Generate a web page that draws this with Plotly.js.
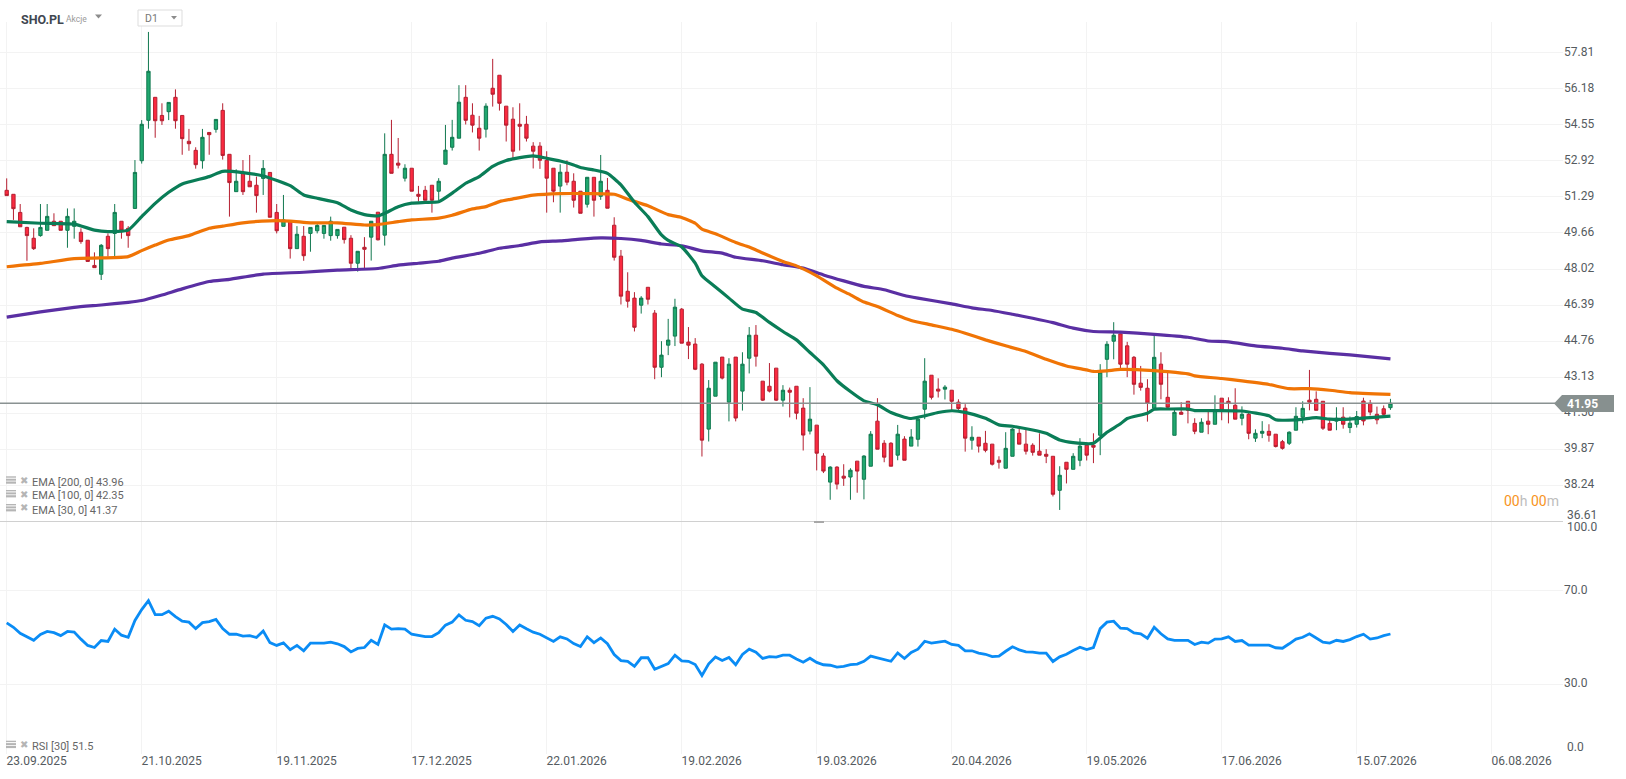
<!DOCTYPE html>
<html>
<head>
<meta charset="utf-8">
<title>SHO.PL</title>
<script src="https://cdn.plot.ly/plotly-3.0.1.min.js"></script>
<style>
  html, body { margin: 0; padding: 0; background: #fff; }
  #chart { width: 1626px; height: 779px; }
</style>
</head>
<body>
<div id="chart"></div>
<script>
// candles, one per trading day
const openPrices = [
  51.59,51.41,50.59,49.91,49.42,49.54,49.78,50.19,50.19,49.78,
  49.96,49.69,49.33,48.19,47.79,49.51,49.64,50.19,49.87,50.77,
  52.93,54.76,55.80,54.98,55.15,55.80,54.98,53.81,53.40,52.93,
  54.21,54.35,55.21,53.22,51.53,52.39,52.00,51.82,52.13,52.40,
  50.59,49.96,50.19,48.95,49.51,49.64,49.76,49.64,49.54,49.54,
  49.92,49.42,48.29,49.01,49.47,50.60,49.56,53.22,52.82,52.14,
  52.59,51.41,51.59,51.82,51.55,52.77,53.54,53.95,55.80,54.99,
  54.40,54.36,56.21,56.80,55.40,54.81,54.58,54.58,53.59,53.59,
  52.95,52.59,51.78,52.41,52.00,51.55,50.96,52.18,51.32,51.59,
  50.01,48.61,47.02,46.71,46.39,47.20,46.03,43.58,44.58,44.99,
  46.21,44.72,44.63,43.72,40.78,42.27,44.04,42.00,44.04,42.50,
  43.99,45.03,42.95,42.72,43.54,42.09,42.54,42.72,41.73,40.69,
  40.96,39.56,38.38,39.06,38.65,38.61,39.33,38.51,39.10,41.14,
  40.14,40.14,39.60,40.33,40.01,40.32,41.68,43.22,42.59,42.59,
  42.54,42.00,41.73,40.28,40.41,40.14,40.10,39.37,39.01,39.55,
  40.59,40.10,40.05,39.78,39.64,39.55,38.01,39.28,38.96,39.37,
  40.05,40.05,40.50,43.94,44.76,45.09,44.55,44.03,42.86,42.63,
  41.72,43.72,42.22,40.50,41.54,42.04,41.04,40.64,41.14,41.00,
  42.18,42.04,41.86,41.27,41.45,40.37,40.59,40.68,40.55,40.21,
  40.14,40.73,41.32,42.09,42.13,42.04,41.04,41.14,41.32,40.85,
  41.00,42.05,41.95,41.45,41.70,41.75
];
const highPrices = [
  52.13,51.41,50.97,49.94,49.87,50.97,50.97,50.55,50.19,50.77,
  50.77,49.87,49.33,48.78,49.16,49.64,50.97,50.19,49.97,52.96,
  54.77,58.76,55.80,55.53,55.57,56.16,54.98,54.37,53.54,54.37,
  54.21,54.80,55.53,53.22,52.54,52.96,53.19,52.21,52.96,52.40,
  50.97,51.38,50.19,49.97,49.97,49.91,50.06,50.00,50.40,49.82,
  49.92,49.56,48.83,49.47,50.19,50.60,54.17,54.78,53.96,52.77,
  52.59,51.79,51.79,51.82,52.14,54.55,54.78,56.35,56.35,55.53,
  54.96,55.53,57.54,56.80,55.40,55.35,55.53,54.96,53.77,53.77,
  53.36,52.59,52.77,52.95,52.36,51.55,52.18,52.18,53.19,52.15,
  50.37,48.89,47.88,46.98,46.80,47.20,46.17,44.76,45.77,46.68,
  46.26,45.40,44.90,43.77,43.00,43.81,44.04,43.99,44.04,44.26,
  45.40,45.49,42.95,43.77,43.54,42.77,42.66,42.72,42.18,42.68,
  40.96,39.69,39.10,39.10,39.19,39.01,39.33,39.60,40.69,42.18,
  40.28,40.19,40.97,40.46,40.78,41.35,43.99,43.22,43.08,42.77,
  42.54,42.13,41.91,40.91,40.41,40.70,40.10,39.55,40.64,40.82,
  40.82,40.78,40.14,40.59,39.87,39.55,39.10,39.28,39.69,40.37,
  40.14,40.59,43.72,44.76,45.62,45.12,44.73,44.09,43.64,43.04,
  45.04,44.26,43.35,41.72,42.00,42.04,41.27,41.27,41.68,42.31,
  42.18,42.22,42.63,41.81,41.54,40.77,41.14,41.00,40.55,40.29,
  40.68,41.77,42.04,43.46,42.49,42.04,41.27,41.77,41.77,41.35,
  41.60,42.20,42.10,41.80,41.85,42.15
];
const lowPrices = [
  51.35,50.25,49.94,48.40,48.89,49.49,49.78,49.99,49.78,48.99,
  49.40,49.17,48.37,48.09,47.53,48.59,48.59,49.40,48.99,50.77,
  52.80,54.38,53.97,54.55,54.77,54.38,53.20,53.38,52.57,52.57,
  53.20,54.20,52.98,50.40,51.53,51.38,51.75,50.58,51.38,50.37,
  49.64,49.96,48.50,48.95,48.40,48.81,49.64,49.40,49.31,49.40,
  49.18,48.02,47.91,48.06,48.41,49.32,49.09,52.36,52.58,51.99,
  51.55,51.08,51.14,50.58,51.14,52.77,53.39,53.95,54.57,54.21,
  53.39,53.98,55.38,55.20,53.80,53.00,53.39,53.80,52.58,52.56,
  50.58,51.05,50.58,51.82,50.81,50.55,50.81,50.40,51.16,50.78,
  48.41,46.42,46.28,45.20,46.01,46.42,43.04,43.13,44.13,44.54,
  44.67,43.95,43.45,39.54,40.22,42.27,43.03,41.13,41.13,41.62,
  43.30,43.61,42.05,42.44,42.05,41.80,41.31,41.22,39.81,40.54,
  38.91,38.79,37.58,38.05,38.21,37.58,37.90,37.60,39.10,39.87,
  39.28,39.10,39.37,39.37,40.01,39.99,41.23,42.12,42.21,42.12,
  41.63,41.65,39.76,39.85,39.72,39.73,39.13,38.99,39.01,39.55,
  40.10,39.63,39.58,39.60,39.24,37.73,37.12,38.32,38.96,39.10,
  39.36,39.24,39.60,43.13,43.94,43.49,43.13,42.34,42.52,41.12,
  41.68,42.13,41.68,40.50,41.45,41.04,40.55,40.64,40.55,41.00,
  41.18,41.04,41.23,40.95,40.32,40.20,40.37,40.21,39.95,39.85,
  40.06,40.73,41.04,41.63,41.63,40.74,40.73,40.73,40.80,40.60,
  40.85,40.95,41.40,41.00,41.30,41.65
];
const closePrices = [
  51.35,50.76,49.94,49.54,48.95,49.91,50.41,49.99,49.78,50.41,
  50.19,49.27,48.37,48.09,49.10,48.95,50.59,49.78,49.54,52.40,
  54.58,56.98,54.74,54.74,55.57,54.74,53.93,53.70,52.75,53.99,
  54.11,54.80,53.17,51.94,52.00,51.53,51.75,51.35,52.58,50.37,
  49.76,50.25,48.95,49.60,48.63,49.91,50.00,50.00,50.19,49.82,
  49.36,48.29,48.83,48.92,50.19,49.35,53.22,52.36,52.73,52.59,
  51.55,51.32,51.14,51.14,52.00,53.41,53.99,55.58,54.76,54.54,
  53.95,55.40,55.94,55.53,54.54,53.36,54.49,53.95,53.36,52.95,
  52.14,51.55,52.41,51.96,51.14,50.55,52.18,51.14,52.00,50.78,
  48.56,46.80,46.57,45.39,46.71,46.66,43.58,44.13,44.81,46.30,
  44.67,44.58,43.49,40.28,42.63,43.81,43.09,43.72,41.28,43.72,
  45.03,44.08,42.09,42.50,42.09,42.54,42.45,41.50,40.51,41.23,
  39.69,38.88,39.06,38.29,38.56,38.92,38.88,39.56,40.55,39.87,
  39.51,39.10,40.55,39.37,40.42,41.23,42.95,42.22,42.50,42.68,
  42.04,41.71,40.37,40.41,40.01,39.82,39.19,39.28,39.91,40.78,
  40.10,39.78,39.73,39.60,39.55,37.83,38.69,38.96,39.55,40.01,
  39.60,39.96,43.36,44.62,45.03,43.72,43.72,42.81,42.67,41.95,
  44.03,42.81,41.77,41.54,41.45,41.63,40.68,41.09,41.00,41.63,
  41.63,41.95,41.23,41.45,40.59,40.59,40.68,40.50,39.99,39.91,
  40.64,41.36,41.72,42.00,41.63,40.82,40.73,41.27,41.00,41.05,
  41.35,41.15,41.55,41.20,41.45,41.95
];

// moving averages, read at a subset of the bars
const ema30Bars = [0,5,10,13,15,18,20,22,24,26,30,32,35,38,42,44,46,49,51,53,55,56,58,60,62,64,66,68,70,72,74,76,78,80,82,84,85,87,89,91,93,95,97,98,100,102,103,105,107,109,111,113,115,117,119,121,123,125,127,129,131,133,134,136,138,140,142,145,147,149,152,154,156,158,161,163,165,166,169,170,172,175,176,179,183,187,188,191,194,196,199,202,205];
const ema30 = [50.17,50.10,50.06,49.79,49.72,49.79,50.40,51.00,51.50,51.88,52.21,52.45,52.39,52.24,51.80,51.38,51.23,51.03,50.70,50.49,50.43,50.55,50.85,51.01,51.04,51.07,51.46,51.91,52.21,52.67,52.94,53.07,53.15,53.04,52.92,52.74,52.62,52.51,52.36,51.84,51.05,50.40,49.57,49.32,49.03,48.29,47.72,47.21,46.71,46.21,46.06,45.61,45.20,44.82,44.25,43.69,42.97,42.48,42.06,41.88,41.53,41.32,41.26,41.38,41.53,41.61,41.54,41.27,40.97,40.91,40.74,40.59,40.29,40.17,40.14,40.64,41.02,41.26,41.50,41.68,41.69,41.69,41.62,41.62,41.60,41.38,41.20,41.20,41.30,41.23,41.23,41.30,41.37];
const ema100Bars = [0,5,10,14,18,20,22,24,27,30,32,35,39,42,45,49,53,55,58,60,64,66,69,71,73,75,78,82,86,90,92,95,98,100,102,103,105,108,110,112,115,117,120,123,125,127,129,132,134,137,140,142,145,148,151,154,157,160,161,163,165,170,172,175,176,180,183,187,190,193,196,199,205];
const ema100 = [48.13,48.28,48.50,48.53,48.59,48.86,49.11,49.34,49.54,49.87,49.97,50.12,50.21,50.20,50.12,50.12,50.02,50.04,50.17,50.25,50.33,50.46,50.75,50.85,51.08,51.20,51.37,51.44,51.44,51.41,51.19,50.89,50.49,50.36,50.10,49.83,49.62,49.23,49.02,48.75,48.37,48.17,47.72,47.16,46.86,46.53,46.33,45.92,45.70,45.50,45.30,45.12,44.82,44.55,44.29,43.94,43.64,43.46,43.39,43.42,43.48,43.43,43.38,43.28,43.19,43.07,42.96,42.80,42.61,42.61,42.54,42.43,42.35];
const ema200Bars = [0,5,10,14,18,20,23,26,30,33,38,44,49,55,58,61,64,66,70,73,76,79,82,85,88,91,94,97,100,103,106,108,112,115,118,121,124,127,130,133,135,140,143,146,149,152,155,158,161,165,170,175,178,181,185,189,192,196,199,205];
const ema200 = [45.85,46.09,46.29,46.40,46.52,46.60,46.85,47.13,47.46,47.56,47.80,47.88,47.98,48.05,48.20,48.29,48.38,48.52,48.74,48.97,49.09,49.26,49.30,49.38,49.44,49.41,49.32,49.16,49.08,48.85,48.75,48.56,48.40,48.22,48.07,47.76,47.49,47.24,47.09,46.83,46.71,46.45,46.27,46.15,45.98,45.80,45.60,45.35,45.20,45.17,45.07,44.94,44.77,44.73,44.55,44.44,44.32,44.21,44.14,43.96];

const rsi = [
  56.3,54.4,51.8,50.4,48.8,51.3,52.6,52.1,50.8,52.6,
  52.3,49.3,46.6,45.7,48.7,48.3,53.6,51.0,50.1,57.3,
  62.0,65.8,59.8,59.8,61.3,59.0,57.0,56.6,53.8,56.4,
  56.8,57.8,53.8,51.4,51.4,50.6,50.8,50.0,52.8,47.8,
  46.6,47.7,44.8,46.6,44.3,47.6,47.6,47.6,48.0,47.3,
  46.1,43.8,45.3,45.7,48.8,47.0,55.4,53.6,53.8,53.6,
  51.4,50.8,50.4,50.4,52.1,55.3,56.6,59.7,57.4,56.8,
  55.1,58.3,59.1,58.0,55.6,52.6,55.4,53.8,52.3,51.4,
  49.7,48.3,50.3,49.4,47.4,46.1,50.3,47.8,49.8,47.3,
  42.7,40.1,39.8,37.6,41.3,41.3,36.4,37.6,38.8,42.4,
  40.0,39.8,38.4,33.7,38.7,41.6,40.1,41.4,38.3,42.7,
  45.0,43.7,41.0,41.8,41.6,42.4,42.4,40.8,39.4,41.1,
  39.3,38.3,38.1,37.3,37.6,38.4,38.6,39.8,42.0,41.3,
  40.7,39.8,43.4,41.0,43.6,45.0,48.4,47.6,48.0,48.4,
  47.0,46.6,44.3,44.3,43.3,42.8,41.8,42.0,44.1,46.0,
  44.7,43.8,43.7,43.3,43.3,39.7,41.7,42.8,44.4,45.8,
  44.8,45.7,53.8,56.6,57.0,54.0,53.8,52.0,51.6,49.7,
  54.4,51.6,49.4,48.8,48.8,48.8,47.0,48.0,47.6,49.3,
  49.4,50.3,48.3,48.7,46.7,46.7,46.7,46.7,45.6,45.4,
  47.3,49.3,50.1,51.6,49.8,48.0,47.6,48.8,48.3,49.1,
  50.4,51.4,49.3,49.8,50.8,51.5
];

const dateTicks = [0,20,40,60,80,100,120,140,160,180,200,220];
const dateLabels = ['23.09.2025','21.10.2025','19.11.2025','17.12.2025','22.01.2026','19.02.2026','19.03.2026','20.04.2026','19.05.2026','17.06.2026','15.07.2026','06.08.2026'];
const priceTicks = [57.81,56.18,54.55,52.92,51.29,49.66,48.02,46.39,44.76,43.13,41.50,39.87,38.24];
const rsiTicks = [70,30];
const lastPrice = 41.95;

const barIndex = openPrices.map((_, i) => i);
const textColor = '#555b60';
const gridColor = '#f3f3f3';

// page pixels -> paper coords (plot area is 1563 x 732 from the top left at y=22)
const W = 1563, H = 732, TOP = 22;
const px = x => x / W;
const py = y => (H + TOP - y) / H;

function label(x, y, text, size, color, extra) {
  return Object.assign({
    xref: 'paper', yref: 'paper', x: px(x), y: py(y), text: text,
    xanchor: 'left', yanchor: 'middle', showarrow: false,
    font: { family: 'Roboto', size: size, color: color }, borderpad: 0
  }, extra || {});
}

function rect(x0, y0, x1, y1, color, line) {
  return {
    type: 'rect', xref: 'paper', yref: 'paper', layer: 'above',
    x0: px(x0), x1: px(x1), y0: py(y0), y1: py(y1),
    fillcolor: color, line: line || { width: 0 }
  };
}

function tri(x0, x1, xm, y0, y1, color) {
  return {
    type: 'path', xref: 'paper', yref: 'paper', layer: 'above',
    path: `M ${px(x0)} ${py(y0)} L ${px(x1)} ${py(y0)} L ${px(xm)} ${py(y1)} Z`,
    fillcolor: color, line: { width: 0 }
  };
}

const candles = {
  type: 'candlestick', x: barIndex, open: openPrices, high: highPrices, low: lowPrices, close: closePrices,
  xaxis: 'x', yaxis: 'y', whiskerwidth: 0, hoverinfo: 'skip', showlegend: false,
  increasing: { line: { color: '#10784f', width: 1 }, fillcolor: '#20a86f' },
  decreasing: { line: { color: '#b51f30', width: 1 }, fillcolor: '#fb2a40' }
};

function emaTrace(bars, vals, color) {
  return {
    type: 'scatter', mode: 'lines', x: bars, y: vals, xaxis: 'x', yaxis: 'y',
    line: { color: color, width: 3.2, shape: 'spline', smoothing: 0.5 }, hoverinfo: 'skip', showlegend: false
  };
}

const rsiTrace = {
  type: 'scatter', mode: 'lines', x: barIndex, y: rsi, xaxis: 'x2', yaxis: 'y2',
  line: { color: '#0a8cf5', width: 2.8 }, hoverinfo: 'skip', showlegend: false
};

const shapes = [
  // last price line and its flag
  { type: 'line', xref: 'paper', yref: 'y', x0: 0, x1: px(1555), y0: lastPrice, y1: lastPrice,
    line: { color: '#8a9292', width: 1.3 } },
  { type: 'path', xref: 'paper', yref: 'paper', layer: 'above',
    path: `M ${px(1554)} ${py(403.5)} L ${px(1562)} ${py(395)} L ${px(1562)} ${py(412)} Z`,
    fillcolor: '#87908f', line: { width: 0 } },
  rect(1562, 395, 1614, 412, '#87908f'),
  // panel separator + handle
  { type: 'line', xref: 'paper', yref: 'paper', x0: 0, x1: 1, y0: py(521.5), y1: py(521.5),
    line: { color: '#d0d0d0', width: 1 } },
  rect(814, 521, 824, 523, '#a8a8a8'),
  // header controls
  tri(95, 102, 98.5, 14.5, 18.5, '#8c8c8c'),
  rect(138, 10, 182, 26, '#ffffff', { color: '#dddddd', width: 1 }),
  tri(171, 177, 174, 16, 19.5, '#8c8c8c')
];

// little indicator icons next to the legend rows
[482.3, 496, 510, 746.7].forEach(y => {
  shapes.push(rect(6, y - 6, 16, y - 4.6, '#b5b5b5'));
  shapes.push(rect(6, y - 3.6, 16, y - 1.6, '#b5b5b5'));
  shapes.push(rect(6, y - 0.8, 16, y + 1.4, '#b5b5b5'));
});

const annotations = [
  label(20, 19, '<b>SHO.PL</b>', 12.5, '#3f4750'),
  label(65, 19.5, 'Akcje', 8.5, '#9a9a9a'),
  label(144, 18.5, 'D1', 10.5, '#777777'),
  label(31, 482.3, 'EMA [200, 0] 43.96', 11, '#666666'),
  label(31, 496, 'EMA [100, 0] 42.35', 11, '#666666'),
  label(31, 510, 'EMA [30, 0] 41.37', 11, '#666666'),
  label(31, 746.7, 'RSI [30] 51.5', 11, '#666666'),
  label(1503, 501, '<span style="color:#f7941d">00</span>h <span style="color:#f7941d">00</span>m', 14, '#bdbdbd'),
  label(1566, 515, '36.61', 12, textColor),
  label(1566, 527, '100.0', 12, textColor),
  label(1566, 747, '0.0', 12, textColor),
  label(1566, 403.5, '<b>41.95</b>', 12, '#ffffff')
];
[482.3, 496, 510, 746.7].forEach(y => {
  annotations.push(label(18.5, y - 2, '✖', 10, '#b5b5b5', { font: { family: 'DejaVu Sans', size: 10, color: '#b5b5b5' } }));
});

const xRange = [(0 - 6.7) / 6.75, (W - 6.7) / 6.75];
const splitY = py(521);

const layout = {
  width: 1626, height: 779,
  paper_bgcolor: '#ffffff', plot_bgcolor: '#ffffff',
  margin: { l: 0, r: 63, t: TOP, b: 25, pad: 0 },
  font: { family: 'Roboto', size: 12, color: textColor },
  showlegend: false, boxgap: 0.3, hovermode: false,
  xaxis: {
    type: 'linear', domain: [0, 1], anchor: 'y', range: xRange, matches: 'x2',
    tickmode: 'array', tickvals: dateTicks, showticklabels: false,
    rangeslider: { visible: false }, showgrid: true, gridcolor: gridColor, gridwidth: 1,
    zeroline: false, showline: false, ticks: ''
  },
  yaxis: {
    domain: [splitY, 1], anchor: 'x', side: 'right', range: [36.62, 59.21],
    tickmode: 'array', tickvals: priceTicks, ticktext: priceTicks.map(v => v.toFixed(2)),
    tickfont: { family: 'Roboto', size: 12, color: textColor }, ticklabelshift: -1,
    showgrid: true, gridcolor: gridColor, gridwidth: 1, zeroline: false, showline: false, ticks: ''
  },
  xaxis2: {
    type: 'linear', domain: [0, 1], anchor: 'y2', range: xRange,
    tickmode: 'array', tickvals: dateTicks, ticktext: dateLabels, ticklabelshift: 30, ticklabelstandoff: -2,
    tickfont: { family: 'Roboto', size: 12, color: textColor },
    showgrid: true, gridcolor: gridColor, gridwidth: 1, zeroline: false, showline: false, ticks: ''
  },
  yaxis2: {
    domain: [0, splitY], anchor: 'x2', side: 'right', range: [0, 100],
    tickmode: 'array', tickvals: rsiTicks, ticktext: rsiTicks.map(v => v.toFixed(1)),
    tickfont: { family: 'Roboto', size: 12, color: textColor }, ticklabelshift: -1,
    showgrid: true, gridcolor: gridColor, gridwidth: 1, zeroline: false, showline: false, ticks: ''
  },
  shapes: shapes,
  annotations: annotations
};

Plotly.newPlot('chart', [
  candles,
  emaTrace(ema200Bars, ema200, '#5a2fa3'),
  emaTrace(ema100Bars, ema100, '#f07405'),
  emaTrace(ema30Bars, ema30, '#0a7d57'),
  rsiTrace
], layout, { displayModeBar: false, staticPlot: true });
</script>
</body>
</html>
